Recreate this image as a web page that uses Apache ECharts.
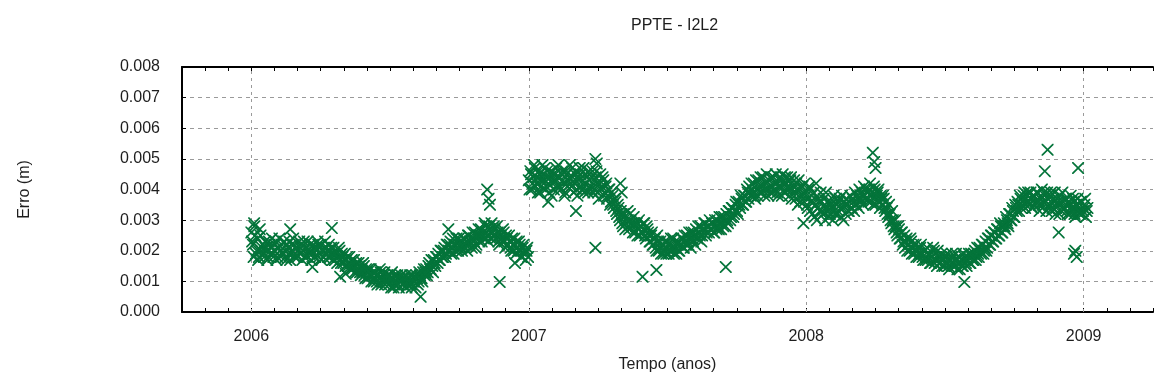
<!DOCTYPE html>
<html>
<head>
<meta charset="utf-8">
<title>PPTE - I2L2</title>
<script src="https://cdn.jsdelivr.net/npm/echarts@6/dist/echarts.min.js"></script>
<style>
  html, body { margin: 0; padding: 0; background: #ffffff; }
  #chart { width: 1156px; height: 388px; }
</style>
</head>
<body>
<div id="chart"></div>
<script>
// Daily positioning error of station PPTE (I2L2 combination), in mm.
// Each year is stored as two interleaved samplings: even days and odd days.
const seriesYears = [2006, 2007, 2008];

const erro2006Even = [
  2.6, 2.2, 2.8, 1.9, 2.4, 1.8, 2.5, 2.1, 1.9, 2.3,
  2.0, 1.8, 2.2, 2.1, 1.9, 2.0, 2.3, 1.8, 2.1, 2.0,
  2.2, 1.9, 2.0, 1.7, 2.1, 2.3, 1.9, 2.0, 2.2, 1.8,
  2.1, 2.0, 1.9, 2.2, 2.0, 1.8, 2.1, 2.3, 1.9, 2.0,
  1.9, 2.1, 1.8, 2.0, 2.2, 1.9, 1.7, 2.0, 2.1, 1.9,
  2.0, 2.2, 1.8, 1.9, 2.1, 1.7, 1.9, 1.8, 2.0, 1.6,
  1.8, 1.7, 1.5, 1.8, 1.6, 1.4, 1.7, 1.5, 1.3, 1.6,
  1.4, 1.5, 1.2, 1.3, 1.5, 1.1, 1.3, 1.4, 1.2, 1.0,
  1.3, 1.1, 1.2, 0.9, 1.1, 1.3, 1.0, 1.2, 0.9, 1.1,
  1.0, 1.2, 0.8, 1.1, 0.9, 1.0, 1.2, 0.8, 1.0, 1.1,
  0.9, 1.0, 0.8, 1.1, 1.0, 0.9, 1.2, 1.0, 0.8, 1.1,
  1.0, 1.2, 1.1, 1.3, 1.2, 1.4, 1.3, 1.6, 1.4, 1.5,
  1.7, 1.5, 1.8, 1.9, 1.7, 2.0, 1.8, 2.1, 1.9, 2.2,
  2.0, 2.3, 2.1, 1.9, 2.2, 2.4, 2.0, 2.3, 2.1, 2.2,
  2.4, 2.2, 2.0, 2.5, 2.3, 2.1, 2.4, 2.6, 2.2, 2.5,
  2.3, 2.7, 2.5, 2.4, 2.8, 2.6, 2.3, 2.7, 2.9, 2.5,
  2.7, 2.4, 2.6, 2.2, 2.5, 2.3, 2.6, 2.1, 2.4, 2.2,
  2.3, 2.0, 2.2, 2.4, 1.9, 2.1, 2.3, 2.0, 1.8, 2.2,
  1.9, 2.0, 1.8
];
const erro2006Odd = [
  2.3, 1.8, 2.5, 2.0, 1.7, 2.7, 2.0, 2.2, 1.8, 2.1,
  1.7, 2.3, 1.9, 2.4, 1.8, 2.2, 1.7, 2.1, 2.4, 1.8,
  1.9, 2.3, 1.8, 2.2, 1.9, 1.7, 2.2, 2.4, 1.8, 2.1,
  1.8, 2.3, 2.1, 1.7, 2.3, 2.1, 1.8, 2.0, 2.2, 1.7,
  2.2, 1.8, 2.1, 2.3, 1.8, 2.2, 2.0, 1.8, 2.3, 2.1,
  1.8, 2.0, 2.1, 1.7, 1.9, 2.0, 1.6, 2.1, 1.7, 1.9,
  1.6, 1.9, 1.7, 1.5, 1.8, 1.5, 1.4, 1.7, 1.5, 1.3,
  1.6, 1.3, 1.4, 1.6, 1.2, 1.4, 1.1, 1.2, 1.4, 1.2,
  1.0, 1.3, 1.0, 1.2, 1.4, 0.9, 1.1, 1.3, 1.0, 1.2,
  0.9, 1.1, 1.3, 0.8, 1.2, 1.1, 0.9, 1.1, 1.2, 0.9,
  1.1, 1.2, 0.9, 1.0, 1.2, 0.8, 1.0, 1.1, 1.2, 0.9,
  1.3, 1.1, 1.0, 1.4, 1.3, 1.2, 1.5, 1.4, 1.7, 1.3,
  1.6, 1.8, 1.6, 1.7, 2.0, 1.8, 2.0, 1.8, 2.2, 2.0,
  2.2, 1.9, 2.4, 2.2, 2.0, 2.1, 2.4, 2.2, 2.0, 2.4,
  2.1, 2.3, 2.5, 2.2, 2.4, 2.6, 2.3, 2.1, 2.5, 2.7,
  2.5, 2.3, 2.6, 2.9, 2.4, 2.5, 2.8, 2.4, 2.6, 2.8,
  2.5, 2.8, 2.3, 2.6, 2.4, 2.7, 2.3, 2.5, 2.2, 2.5,
  2.1, 2.4, 2.0, 2.2, 2.3, 2.0, 2.2, 1.8, 2.1, 2.0,
  1.7, 2.1
];

const erro2007Even = [
  4.3, 4.6, 4.0, 4.4, 4.7, 4.2, 3.9, 4.5, 4.1, 4.8,
  4.3, 4.0, 4.6, 4.2, 4.4, 3.8, 4.5, 4.3, 4.7, 4.1,
  4.4, 4.0, 4.6, 4.2, 3.9, 4.5, 4.3, 4.8, 4.1, 4.4,
  4.2, 4.6, 3.8, 4.3, 4.5, 4.0, 4.7, 4.2, 4.4, 3.9,
  4.3, 4.1, 4.6, 4.0, 4.4, 4.2, 3.7, 4.5, 4.1, 4.3,
  3.9, 4.2, 3.8, 4.0, 3.6, 3.8, 3.4, 3.6, 3.2, 3.4,
  3.0, 3.2, 2.8, 3.1, 2.9, 3.3, 2.7, 3.0, 2.8, 3.1,
  2.6, 2.9, 2.7, 2.5, 2.8, 2.6, 2.9, 2.4, 2.7, 2.5,
  2.3, 2.6, 2.2, 2.4, 2.0, 2.3, 2.1, 1.9, 2.2, 2.0,
  2.1, 2.3, 1.9, 2.2, 2.0, 2.4, 2.1, 1.9, 2.3, 2.0,
  2.2, 2.4, 2.1, 2.3, 2.5, 2.2, 2.4, 2.6, 2.3, 2.5,
  2.7, 2.4, 2.6, 2.8, 2.5, 2.7, 2.9, 2.6, 2.8, 3.0,
  2.7, 2.9, 2.6, 2.8, 3.0, 2.7, 2.9, 3.1, 2.8, 3.0,
  3.2, 2.9, 3.3, 3.1, 3.4, 3.2, 3.5, 3.3, 3.6, 3.4,
  3.7, 3.5, 3.8, 3.6, 3.9, 4.1, 3.8, 4.0, 4.2, 3.7,
  4.0, 4.3, 3.9, 4.1, 4.4, 3.8, 4.2, 4.0, 4.3, 3.9,
  4.1, 4.4, 4.0, 4.2, 3.8, 4.3, 4.1, 4.5, 3.9, 4.2,
  4.4, 4.0, 4.3, 3.7, 4.1, 3.9, 4.2, 3.5, 4.0, 3.8,
  4.1, 3.6, 3.9
];
const erro2007Odd = [
  4.0, 4.5, 4.2, 4.8, 4.1, 4.4, 4.6, 3.9, 4.3, 4.5,
  4.7, 4.1, 4.4, 3.9, 4.6, 4.2, 4.0, 4.5, 4.3, 4.8,
  4.1, 4.5, 4.3, 3.8, 4.6, 4.1, 4.4, 4.2, 4.7, 3.9,
  4.5, 4.0, 4.4, 4.7, 4.1, 4.3, 3.9, 4.5, 4.0, 4.6,
  4.0, 4.4, 3.9, 4.3, 4.6, 3.9, 4.2, 4.0, 4.4, 3.8,
  4.1, 3.7, 4.0, 3.5, 3.9, 3.5, 3.7, 3.3, 3.5, 3.1,
  3.3, 2.9, 3.2, 2.7, 3.0, 2.8, 3.2, 2.9, 2.6, 2.9,
  2.8, 2.5, 3.0, 2.8, 2.6, 2.9, 2.5, 2.8, 2.6, 2.3,
  2.5, 2.2, 2.4, 2.1, 2.5, 2.0, 2.3, 2.2, 1.9, 2.3,
  1.9, 2.2, 2.0, 2.4, 2.1, 1.9, 2.3, 2.2, 2.0, 2.2,
  2.4, 2.1, 2.5, 2.2, 2.3, 2.6, 2.1, 2.4, 2.6, 2.2,
  2.5, 2.8, 2.5, 2.3, 2.7, 2.9, 2.5, 2.8, 2.6, 2.7,
  2.9, 2.6, 3.0, 2.7, 2.8, 3.1, 2.7, 2.9, 3.1, 2.8,
  3.0, 3.3, 3.0, 3.4, 3.1, 3.3, 3.6, 3.2, 3.5, 3.8,
  3.5, 3.8, 3.6, 4.0, 3.7, 3.9, 4.2, 3.9, 3.8, 4.3,
  3.8, 4.1, 4.4, 3.9, 4.2, 4.0, 4.5, 3.8, 4.1, 4.4,
  3.9, 4.2, 4.5, 3.9, 4.1, 4.4, 3.8, 4.2, 4.4, 4.0,
  4.1, 3.8, 4.4, 4.0, 4.3, 3.7, 4.0, 4.3, 3.6, 4.1,
  3.8, 4.2
];

const erro2008Even = [
  3.8, 3.4, 4.1, 3.6, 3.2, 3.9, 3.5, 3.0, 3.7, 3.3,
  3.6, 3.2, 3.5, 3.9, 3.3, 3.1, 3.6, 3.4, 3.8, 3.2,
  3.5, 3.3, 3.7, 3.1, 3.4, 3.6, 3.2, 3.5, 3.3, 3.8,
  3.4, 3.6, 3.9, 3.5, 3.7, 4.0, 3.6, 3.8, 4.1, 3.7,
  3.9, 3.6, 4.2, 3.8, 3.5, 4.0, 3.7, 3.9, 3.6, 3.8,
  3.5, 3.7, 3.3, 3.4, 3.1, 3.2, 2.9, 3.0, 2.7, 2.8,
  2.5, 2.7, 2.4, 2.6, 2.3, 2.1, 2.4, 2.2, 2.0, 2.3,
  2.1, 1.9, 2.2, 2.0, 1.8, 2.1, 1.9, 1.7, 2.0, 1.8,
  1.7, 1.9, 1.6, 1.8, 2.0, 1.7, 1.5, 1.8, 1.6, 1.9,
  1.7, 1.5, 1.8, 1.6, 1.4, 1.7, 1.9, 1.6, 1.5, 1.7,
  1.6, 1.4, 1.7, 1.5, 1.8, 1.6, 1.7, 1.9, 1.6, 1.8,
  1.7, 2.0, 1.8, 1.9, 2.1, 1.9, 2.2, 2.0, 2.3, 2.1,
  2.4, 2.2, 2.5, 2.3, 2.6, 2.4, 2.7, 2.5, 2.8, 2.6,
  2.9, 2.7, 3.0, 2.8, 3.2, 3.0, 3.3, 3.1, 3.4, 3.6,
  3.3, 3.7, 3.5, 3.8, 3.4, 3.6, 3.9, 3.5, 3.7, 3.4,
  3.8, 3.6, 3.9, 3.5, 3.7, 4.0, 3.6, 3.8, 3.3, 3.7,
  3.5, 3.9, 3.4, 3.6, 3.2, 3.7, 3.5, 3.8, 3.3, 3.6,
  3.4, 3.7, 3.2, 3.5, 3.8, 3.3, 3.6, 3.1, 3.5, 3.4,
  3.2, 3.6, 3.3, 3.5, 3.1, 3.4
];
const erro2008Odd = [
  3.5, 4.0, 3.3, 3.8, 3.6, 3.1, 4.2, 3.4, 3.6, 3.9,
  3.3, 3.7, 3.0, 3.4, 3.6, 3.2, 3.5, 3.0, 3.3, 3.7,
  3.2, 3.6, 3.4, 3.8, 3.0, 3.5, 3.7, 3.3, 3.6, 3.4,
  3.7, 3.3, 3.5, 3.8, 3.4, 3.7, 3.9, 3.5, 3.8, 4.0,
  3.7, 4.0, 3.6, 3.9, 4.1, 3.5, 3.8, 4.0, 3.4, 3.7,
  3.8, 3.4, 3.6, 3.2, 3.5, 3.0, 3.3, 2.8, 3.0, 2.6,
  2.8, 2.4, 2.6, 2.2, 2.5, 2.3, 2.0, 2.2, 2.4, 1.9,
  2.2, 2.0, 1.8, 2.1, 1.9, 2.2, 1.8, 2.0, 1.7, 2.1,
  1.9, 1.6, 1.8, 2.1, 1.6, 1.8, 2.0, 1.6, 1.8, 1.5,
  1.8, 1.6, 1.9, 1.5, 1.7, 1.8, 1.5, 1.7, 1.9, 1.4,
  1.8, 1.6, 1.5, 1.9, 1.7, 1.5, 1.8, 1.6, 1.9, 1.7,
  1.9, 1.7, 2.1, 1.8, 2.0, 2.2, 1.9, 2.1, 2.0, 2.4,
  2.2, 2.5, 2.3, 2.6, 2.4, 2.7, 2.5, 2.9, 2.6, 2.8,
  2.8, 3.1, 2.9, 3.2, 3.0, 3.4, 3.1, 3.5, 3.3, 3.5,
  3.8, 3.4, 3.6, 3.9, 3.5, 3.8, 3.6, 3.9, 3.4, 3.8,
  3.5, 3.9, 3.6, 3.3, 3.8, 3.5, 3.9, 3.6, 3.9, 3.4,
  3.8, 3.3, 3.7, 3.9, 3.4, 3.6, 3.2, 3.6, 3.9, 3.4,
  3.7, 3.3, 3.6, 3.2, 3.4, 3.7, 3.2, 3.5, 3.7, 3.3,
  3.6, 3.2, 3.4, 3.7, 3.3
];

// Isolated solutions away from the main band: [decimal year, error in mm]
const outliers = [
  [2006.01, 2.9], [2006.14, 2.7], [2006.22, 1.47], [2006.29, 2.74],
  [2006.32, 1.15], [2006.34, 1.25], [2006.61, 0.5], [2006.71, 2.7],
  [2006.85, 4.0], [2006.855, 3.7], [2006.86, 3.5], [2006.895, 0.98],
  [2006.95, 1.6],
  [2007.07, 3.6], [2007.17, 3.3], [2007.24, 5.0], [2007.245, 4.85],
  [2007.24, 2.1], [2007.33, 4.2], [2007.335, 3.9], [2007.41, 1.15],
  [2007.46, 1.37], [2007.71, 1.47], [2007.99, 2.9],
  [2008.24, 5.2], [2008.245, 4.9], [2008.25, 4.7], [2008.57, 0.98],
  [2008.87, 5.3], [2008.86, 4.6], [2008.98, 4.7], [2008.91, 2.6],
  [2008.97, 2.0], [2008.975, 1.8], [2008.965, 1.9]
];

const yearGridLines = [2006, 2007, 2008, 2009];
const yTicks = { min: 0, max: 0.008, step: 0.001 };
const xRange = { min: 2005.75, max: 2009.25, step: 1 / 12 };

// Build [decimal year, metres] pairs: even samplings start on day 0, odd on day 1.
const yearly = [
  [erro2006Even, erro2006Odd],
  [erro2007Even, erro2007Odd],
  [erro2008Even, erro2008Odd]
];
const points = [];
yearly.forEach(([even, odd], k) => {
  even.forEach((mm, i) => points.push([seriesYears[k] + (2 * i) / 365, mm / 1000]));
  odd.forEach((mm, i) => points.push([seriesYears[k] + (2 * i + 1) / 365, mm / 1000]));
});
outliers.forEach(([t, mm]) => points.push([t, mm / 1000]));

const FONT = "'Liberation Sans', Arial, sans-serif";
const FS = 16;
const TEXT = '#1e1e1e';
const GREEN = '#04743a';
// Thin "x" marker drawn as a filled outline
const crossPath = 'path://M0,0L1,0L5,4L9,0L10,0L10,1L6,5L10,9L10,10L9,10L5,6L1,10L0,10L0,9L4,5L0,1Z';

const isWholeYear = v => Math.abs(v - Math.round(v)) < 1e-6;

const baseX = {
  type: 'value',
  min: xRange.min,
  max: xRange.max,
  interval: xRange.step,
  axisLine: { show: true, onZero: false, lineStyle: { color: '#000', width: 2 } },
  axisTick: { show: true, inside: true, length: 4, lineStyle: { color: '#000', width: 1 } },
  splitLine: { show: false }
};

const chart = echarts.init(document.getElementById('chart'), null, { renderer: 'canvas' });
chart.setOption({
  animation: false,
  backgroundColor: '#ffffff',
  title: {
    text: 'PPTE - I2L2',
    left: 626,
    top: 13,
    textStyle: { fontFamily: FONT, fontSize: FS, fontWeight: 'normal', color: TEXT }
  },
  grid: { left: 182, top: 67, width: 981, height: 245 },
  xAxis: [
    Object.assign({}, baseX, {
      position: 'bottom',
      name: 'Tempo (anos)',
      nameLocation: 'middle',
      nameGap: 45,
      nameTextStyle: { fontFamily: FONT, fontSize: FS, color: TEXT },
      axisLabel: {
        show: true,
        margin: 17,
        fontFamily: FONT,
        fontSize: FS,
        color: TEXT,
        formatter: v => (isWholeYear(v) ? String(Math.round(v)) : '')
      }
    }),
    Object.assign({}, baseX, {
      position: 'top',
      axisLabel: { show: false }
    })
  ],
  yAxis: {
    type: 'value',
    min: yTicks.min,
    max: yTicks.max,
    interval: yTicks.step,
    name: 'Erro (m)',
    nameLocation: 'middle',
    nameRotate: 90,
    nameGap: 149,
    nameTextStyle: { fontFamily: FONT, fontSize: FS, color: TEXT },
    axisLine: { show: true, lineStyle: { color: '#000', width: 2 } },
    axisTick: { show: true, inside: true, length: 4, lineStyle: { color: '#000', width: 1 } },
    axisLabel: {
      margin: 22,
      fontFamily: FONT,
      fontSize: FS,
      color: TEXT,
      formatter: v => v.toFixed(3)
    },
    splitLine: { show: true, lineStyle: { color: '#9a9a9a', width: 1, type: [4, 4] } }
  },
  series: [
    {
      type: 'line',
      data: [],
      z: 1,
      silent: true,
      markLine: {
        silent: true,
        z: 1,
        symbol: ['none', 'none'],
        label: { show: false },
        lineStyle: { color: '#9a9a9a', width: 1, type: [3, 4] },
        data: yearGridLines.map(y => ({ xAxis: y }))
      }
    },
    {
      type: 'scatter',
      z: 3,
      data: points,
      symbol: crossPath,
      symbolSize: 12,
      itemStyle: { color: GREEN, opacity: 1 }
    }
  ]
});
</script>
</body>
</html>
